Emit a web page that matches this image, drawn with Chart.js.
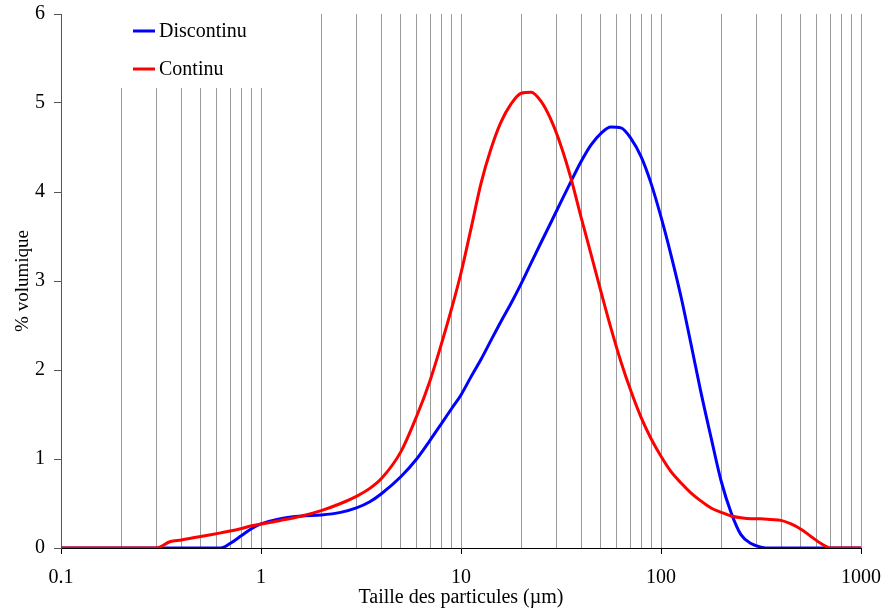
<!DOCTYPE html>
<html>
<head>
<meta charset="utf-8">
<script src="https://cdn.jsdelivr.net/npm/chart.js@4/dist/chart.umd.min.js"></script>
<style>
  html, body { margin: 0; padding: 0; background: #fff; }
  #wrap { width: 886px; height: 611px; }
</style>
</head>
<body>
<div id="wrap"><canvas id="c" width="886" height="611"></canvas></div>
<script>
// Données (taille en µm, % volumique)
const sizes = [0.1, 0.2, 0.3, 0.35, 0.4, 0.5, 0.63, 0.7, 0.8, 0.9, 1, 1.25, 1.6, 2, 2.5, 3, 3.5, 4, 5, 6, 7, 8, 9, 10,
  11.2, 12.6, 14.1, 15.8, 17.8, 20, 22.4, 25.1, 28.2, 31.6, 35.5, 39.8, 44.7, 50.1, 56.2, 63.1, 70.8, 79.4, 89.1, 100,
  112, 126, 141, 158, 178, 200, 224, 251, 282, 316, 355, 398, 447, 501, 562, 631, 708, 794, 891, 1000];

const discontinu = [0, 0, 0, 0, 0, 0, 0, 0.05, 0.14, 0.22, 0.27, 0.33, 0.36, 0.37, 0.40, 0.45, 0.52, 0.61, 0.80, 1.00, 1.21, 1.40, 1.57, 1.72,
  1.92, 2.12, 2.33, 2.54, 2.75, 2.97, 3.20, 3.43, 3.66, 3.89, 4.12, 4.34, 4.53, 4.66, 4.73, 4.72, 4.60, 4.40, 4.10, 3.72,
  3.30, 2.82, 2.30, 1.76, 1.24, 0.75, 0.40, 0.15, 0.05, 0.01, 0, 0, 0, 0, 0, 0, 0, 0, 0, 0];

const continu = [0, 0, 0, 0.07, 0.09, 0.13, 0.17, 0.19, 0.22, 0.25, 0.27, 0.31, 0.36, 0.42, 0.50, 0.58, 0.67, 0.78, 1.08, 1.48, 1.88, 2.30, 2.70, 3.09,
  3.58, 4.10, 4.48, 4.78, 4.99, 5.11, 5.12, 5.02, 4.81, 4.52, 4.15, 3.72, 3.30, 2.88, 2.47, 2.09, 1.76, 1.47, 1.23, 1.03,
  0.86, 0.73, 0.62, 0.53, 0.45, 0.40, 0.36, 0.34, 0.33, 0.33, 0.32, 0.31, 0.27, 0.21, 0.13, 0.05, 0, 0, 0, 0];

const xTickLabels = ['0.1', '1', '10', '100', '1000'];
const yTicks = [0, 1, 2, 3, 4, 5, 6];

// graduations log : 0.1, 0.2 ... 0.9, 1, 2 ... 1000
const xGrid = [];
for (let e = -1; e < 3; e++) {
  for (let m = 1; m < 10; m++) xGrid.push(+(m * Math.pow(10, e)).toPrecision(3));
}
xGrid.push(1000);

const FONT = '"Liberation Serif", "Times New Roman", serif';

function isMajor(v) {
  return xTickLabels.includes(String(v));
}

// fond blanc de la légende + légende
const legendBox = {
  id: 'legendBox',
  beforeDatasetsDraw(chart) {
    const { ctx, chartArea, scales } = chart;
    const right = scales.x.getPixelForValue(1) + 3;
    ctx.save();
    ctx.fillStyle = '#fff';
    ctx.fillRect(chartArea.left + 1, chartArea.top - 2, right - chartArea.left - 1, 88 - chartArea.top + 2);
    ctx.restore();
  },
  afterDatasetsDraw(chart) {
    const { ctx } = chart;
    const items = [chart.data.datasets[0], chart.data.datasets[1]];
    ctx.save();
    ctx.font = '20px ' + FONT;
    ctx.textBaseline = 'middle';
    items.forEach((ds, i) => {
      const y = 31 + i * 38;
      ctx.strokeStyle = ds.borderColor;
      ctx.lineWidth = 3;
      ctx.beginPath();
      ctx.moveTo(133, y);
      ctx.lineTo(155, y);
      ctx.stroke();
      ctx.fillStyle = '#000';
      ctx.fillText(ds.label, 159, y + 1);
    });
    ctx.restore();
  }
};

new Chart(document.getElementById('c'), {
  type: 'line',
  data: {
    datasets: [
      {
        label: 'Discontinu',
        data: sizes.map((s, i) => ({ x: s, y: discontinu[i] })),
        borderColor: '#0000ff',
        borderWidth: 3,
        pointRadius: 0,
        cubicInterpolationMode: 'monotone',
        order: 1
      },
      {
        label: 'Continu',
        data: sizes.map((s, i) => ({ x: s, y: continu[i] })),
        borderColor: '#ff0000',
        borderWidth: 3,
        pointRadius: 0,
        cubicInterpolationMode: 'monotone',
        order: 0
      }
    ]
  },
  options: {
    responsive: false,
    animation: false,
    layout: { padding: { top: 14, right: 25, left: 0, bottom: 0 } },
    plugins: { legend: { display: false }, tooltip: { enabled: false } },
    scales: {
      x: {
        type: 'logarithmic',
        min: 0.1,
        max: 1000,
        afterBuildTicks(scale) {
          scale.ticks = xGrid.map(v => ({ value: v, major: isMajor(v) }));
        },
        afterFit(scale) {
          scale.height = 63;
          scale.paddingLeft = 0;
          scale.paddingRight = 0;
        },
        ticks: {
          autoSkip: false,
          maxRotation: 0,
          padding: 12,
          color: '#000',
          font: { family: FONT, size: 20 },
          callback: (v) => isMajor(v) ? String(v) : ''
        },
        grid: {
          drawOnChartArea: true,
          color: '#9a9a9a',
          lineWidth: 1,
          tickLength: 6,
          tickColor: (c) => (c.tick && isMajor(c.tick.value)) ? '#000' : 'rgba(0,0,0,0)'
        },
        border: { color: '#000', width: 1 },
        title: {
          display: true,
          text: 'Taille des particules (µm)',
          color: '#000',
          font: { family: FONT, size: 20 },
          padding: { top: 0, bottom: 1 }
        }
      },
      y: {
        min: 0,
        max: 6,
        afterBuildTicks(scale) {
          scale.ticks = yTicks.map(v => ({ value: v }));
        },
        afterFit(scale) {
          scale.width = 61;
          scale.paddingTop = 0;
          scale.paddingBottom = 0;
        },
        ticks: {
          padding: 9,
          color: '#000',
          font: { family: FONT, size: 20 }
        },
        grid: {
          drawOnChartArea: false,
          tickLength: 7,
          tickColor: '#555'
        },
        border: { color: '#555', width: 1 },
        title: {
          display: true,
          text: '% volumique',
          color: '#000',
          font: { family: FONT, size: 19 },
          padding: { top: 12, bottom: 0 }
        }
      }
    }
  },
  plugins: [legendBox]
});
</script>
</body>
</html>
